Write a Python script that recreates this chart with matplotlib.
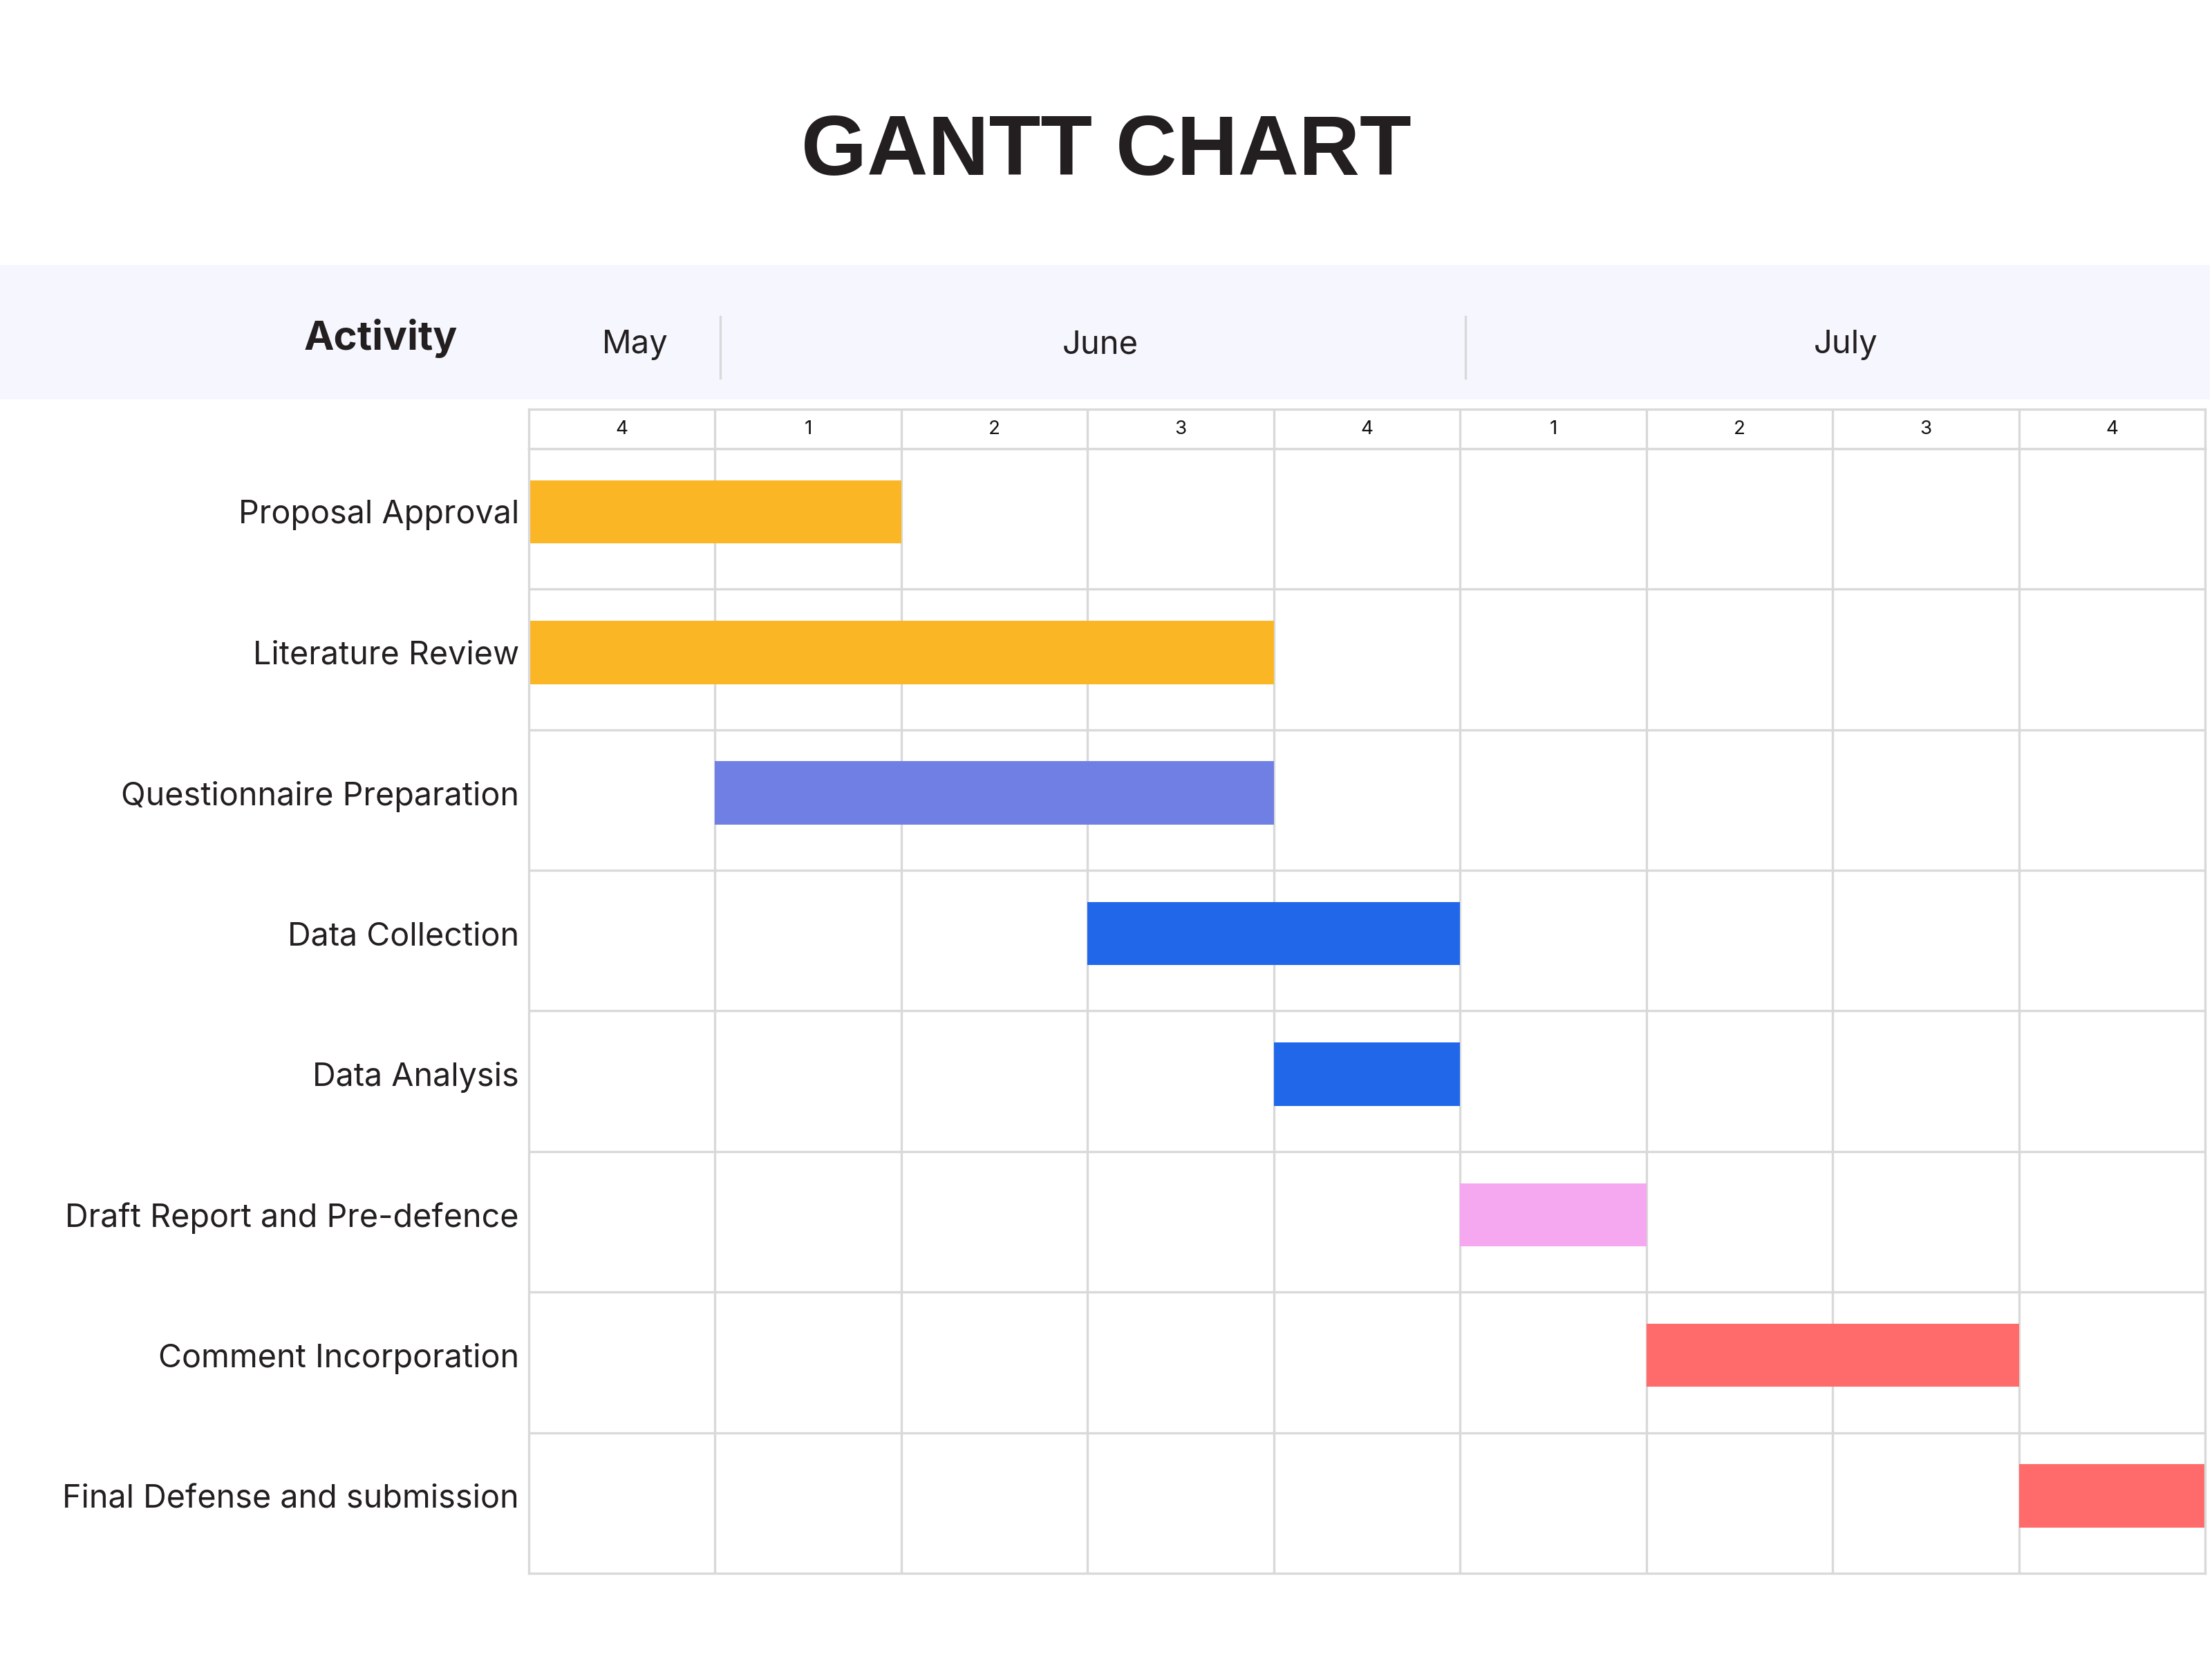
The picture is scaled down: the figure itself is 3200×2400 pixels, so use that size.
import matplotlib.pyplot as plt
import matplotlib.transforms as mtransforms
from matplotlib.patches import Rectangle

# data
activities = ["Proposal Approval", "Literature Review", "Questionnaire Preparation",
              "Data Collection", "Data Analysis", "Draft Report and Pre-defence",
              "Comment Incorporation", "Final Defense and submission"]
start_week = [0, 0, 1, 3, 4, 5, 6, 8]
end_week = [2, 4, 4, 5, 5, 6, 8, 9]
bar_colors = ["#FBB626", "#FBB626", "#6F7FE3", "#2167EA", "#2167EA",
              "#F5A7EF", "#FF6B6B", "#FF6B6B"]
week_labels = ["4", "1", "2", "3", "4", "1", "2", "3", "4"]
months = ["May", "June", "July"]
month_start = [0, 1, 5]
month_end = [1, 5, 9]

txt = "#231F20"
grid_c = "#D9D9D9"
plt.rcParams['font.family'] = ['Inter', 'DejaVu Sans']

fig = plt.figure(figsize=(16, 12), dpi=200)
fig.patch.set_facecolor("white")

# title
fig.text(0.5, 0.908, "GANTT CHART", ha="center", va="center", fontsize=44,
         fontweight="bold", color=txt, family=["Liberation Sans", "DejaVu Sans"])

# header band
fig.patches.append(Rectangle((0, 0.759), 0.999, 0.0815, transform=fig.transFigure,
                             facecolor="#F6F7FE", edgecolor="none", zorder=0))
fig.text(0.172, 0.796, "Activity", ha="center", va="center", fontsize=21,
         fontweight="bold", color=txt)

n_weeks = len(week_labels)
n_rows = len(activities)

# main grid axes
ax = fig.add_axes([0.239, 0.0517, 0.758, 0.6779])
ax.set_xlim(0, n_weeks)
ax.set_ylim(n_rows, 0)
for i in range(1, n_weeks):
    ax.axvline(i, color=grid_c, lw=1.2, zorder=1)
for j in range(1, n_rows):
    ax.axhline(j, color=grid_c, lw=1.2, zorder=1)
rows = [k + 0.45 for k in range(n_rows)]
ax.barh(rows, [e - s for s, e in zip(start_week, end_week)], left=start_week,
        height=0.45, color=bar_colors, zorder=2)
ax.set_xticks([])
ax.set_yticks(rows)
ax.set_yticklabels(activities, fontsize=16.8, color=txt)
ax.tick_params(axis="y", length=0, pad=5)
for sp in ax.spines.values():
    sp.set_color(grid_c)
    sp.set_linewidth(1.2)

# week header axes
wax = fig.add_axes([0.239, 0.7296, 0.758, 0.0237])
wax.set_xlim(0, n_weeks)
wax.set_ylim(0, 1)
for i in range(1, n_weeks):
    wax.axvline(i, color=grid_c, lw=1.2)
for i, w in enumerate(week_labels):
    wax.text(i + 0.5, 0.5, w, ha="center", va="center", fontsize=10, color="#111111")
wax.set_xticks([])
wax.set_yticks([])
for sp in wax.spines.values():
    sp.set_color(grid_c)
    sp.set_linewidth(1.2)

# month labels in header band
trans = mtransforms.blended_transform_factory(ax.transData, fig.transFigure)
for m, s, e in zip(months, month_start, month_end):
    fig.text((s + e) / 2 + 0.07, 0.792, m, transform=trans, ha="center", va="center",
             fontsize=17, color=txt)
for s in month_start[1:]:
    fig.add_artist(plt.Line2D([s + 0.03, s + 0.03], [0.772, 0.809], transform=trans,
                              color=grid_c, lw=1.2))

fig.savefig("out.png", dpi=200, facecolor="white")
